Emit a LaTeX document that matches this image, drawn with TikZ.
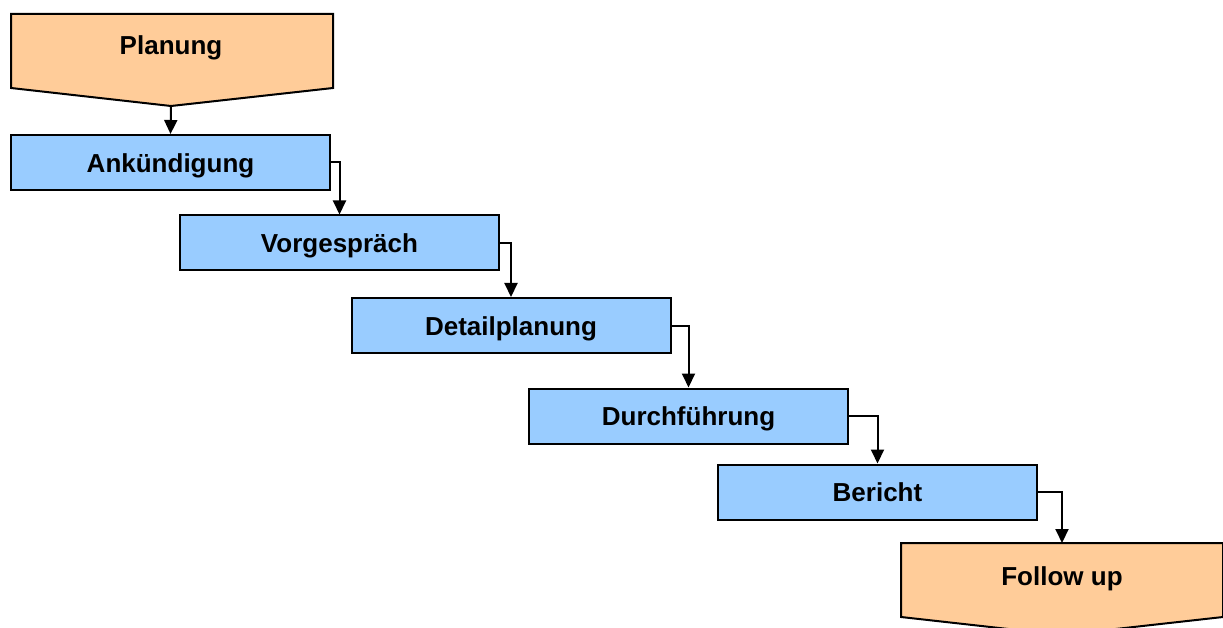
\documentclass[tikz,border=0pt]{standalone}
\usepackage{fontspec}
\setmainfont{Liberation Sans}
\usetikzlibrary{arrows.meta}
\definecolor{boxblue}{HTML}{99CCFF}
\definecolor{boxorange}{HTML}{FFCC99}
\begin{document}
\begin{tikzpicture}[x=1pt,y=-1pt,
  lbl/.style={font=\fontsize{26}{30}\selectfont\bfseries, text height=20pt, text depth=0.5pt, inner sep=0pt},
  stepbox/.style={lbl, draw, line width=2pt, fill=boxblue, minimum width=319pt, minimum height=55pt},
  endshape/.style={draw, line width=2pt, fill=boxorange},
  link/.style={line width=2pt, -{Triangle[length=14pt,width=13pt]}}]
\useasboundingbox (0,0) rectangle (1223,628);
\clip (0,0) rectangle (1223,628);
% start
\draw[endshape] (11,14) -- (333,14) -- (333,88) -- (171,106) -- (11,88) -- cycle;
\node[lbl] (plan) at (171,45) {Planung};
\coordinate (planapex) at (171,106);
% steps
\node[stepbox] (ank) at (170.5,162.5) {Ankündigung};
\node[stepbox] (vor) at (339.5,243) {Vorgespräch};
\node[stepbox] (det) at (511,325.5) {Detailplanung};
\node[stepbox] (dur) at (688.5,416) {Durchführung};
\node[stepbox] (ber) at (877.5,492) {Bericht};
% end
\draw[endshape] (901,543) -- (1223,543) -- (1223,617) -- (1062,635) -- (901,617) -- cycle;
\node[lbl] (fol) at (1062,576) {Follow up};
\coordinate (foltop) at (1062,543);
% connectors
\draw[link] (planapex) -- (ank.north);
\draw[link] (ank.east) -| (vor.north);
\draw[link] (vor.east) -| (det.north);
\draw[link] (det.east) -| (dur.north);
\draw[link] (dur.east) -| (ber.north);
\draw[link] (ber.east) -| (foltop);
\end{tikzpicture}
\end{document}
